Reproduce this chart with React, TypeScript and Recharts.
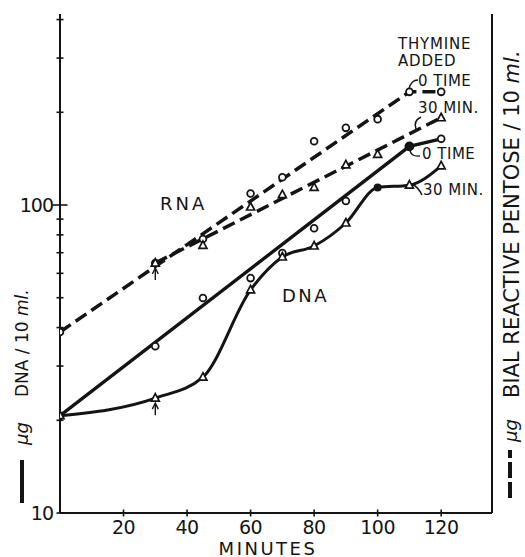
import React from "react";
import { ComposedChart, Line, Scatter, XAxis, YAxis } from "recharts";

// minutes after the split, values
const rnaZeroMinutes = [0, 30, 45, 60, 70, 80, 90, 100, 110, 120];
const rnaZeroValues = [38.7, 64.8, 77.6, 109, 123, 161, 178, 190, 233, 233];
const rnaThirtyMinutes = [30, 45, 60, 70, 80, 90, 100, 120];
const rnaThirtyValues = [64.8, 74, 98.5, 108, 114, 135, 146, 192];
const dnaZeroMinutes = [0, 30, 45, 60, 70, 80, 90, 110, 120];
const dnaZeroValues = [20.7, 34.8, 49.9, 57.9, 69.8, 84, 103, 155, 164];
const dnaThirtyMinutes = [0, 30, 45, 60, 70, 80, 90, 100, 110, 120];
const dnaThirtyValues = [20.7, 23.6, 27.6, 53, 67.8, 73.6, 87.4, 114, 116, 134];

// hand-drawn lines through the scattered points
const rnaZeroLineMinutes = [0, 110, 120];
const rnaZeroLineValues = [38.7, 233, 233];
const rnaThirtyLineMinutes = [30, 120];
const rnaThirtyLineValues = [64.8, 192];
const dnaZeroLineMinutes = [0, 110, 120];
const dnaZeroLineValues = [20.7, 155, 164];

// thymine added marks (arrows)
const arrowMinutes = [30, 30];
const arrowValues = [64.8, 23.6];

const xTicks = [20, 40, 60, 80, 100, 120];
const yTicks = [10, 20, 30, 40, 50, 60, 70, 80, 90, 100, 200, 300, 400];
const yLabels = [10, 100];

const filledDnaZero = [110];
const filledDnaThirty = [100];

const INK = "#141414";
const FONT = "'DejaVu Sans', sans-serif";

const toPoints = (xs: number[], ys: number[]) =>
  xs.map((x, i) => ({ x, y: ys[i] }));

const circleShape = (filled: number[]) => (props: any) => {
  const { cx, cy, payload } = props;
  if (cx == null || cy == null) return <g />;
  const solid = payload && filled.includes(payload.x);
  return (
    <circle
      cx={cx}
      cy={cy}
      r={solid ? 4 : 3.4}
      fill={solid ? INK : "#fff"}
      stroke={INK}
      strokeWidth={1.8}
    />
  );
};

const triangleShape = (filled: number[]) => (props: any) => {
  const { cx, cy, payload } = props;
  if (cx == null || cy == null) return <g />;
  if (payload && filled.includes(payload.x)) {
    return <circle cx={cx} cy={cy} r={4} fill={INK} />;
  }
  return (
    <polygon
      points={`${cx},${cy - 4.5} ${cx + 4},${cy + 3} ${cx - 4},${cy + 3}`}
      fill="#fff"
      stroke={INK}
      strokeWidth={1.7}
    />
  );
};

const arrowShape = (props: any) => {
  const { cx, cy } = props;
  if (cx == null || cy == null) return <g />;
  return (
    <g stroke={INK} strokeWidth={1.4} fill="none">
      <line x1={cx} x2={cx} y1={cy + 5} y2={cy + 17} />
      <path d={`M${cx - 3},${cy + 11} L${cx},${cy + 5} L${cx + 3},${cy + 11}`} />
    </g>
  );
};

const YTick = (props: any) => {
  const { x, y, payload } = props;
  const v = payload.value;
  const half = v === 100 ? 7.5 : 3.5;
  return (
    <g>
      <line x1={x - half} x2={x + half} y1={y} y2={y} stroke={INK} strokeWidth={1.6} />
      {yLabels.includes(v) && (
        <text
          x={x - 7}
          y={y}
          dy="0.36em"
          textAnchor="end"
          fontSize={19}
          fontFamily={FONT}
          fill={INK}
          letterSpacing={-1}
        >
          {v}
        </text>
      )}
    </g>
  );
};

const XTick = (props: any) => {
  const { x, y, payload } = props;
  return (
    <g>
      <line x1={x} x2={x} y1={y - 3.5} y2={y + 3.5} stroke={INK} strokeWidth={1.6} />
      <text
        x={x}
        y={y + 21}
        textAnchor="middle"
        fontSize={19}
        fontFamily={FONT}
        fill={INK}
        letterSpacing={-0.5}
      >
        {payload.value}
      </text>
    </g>
  );
};

const Annotations = () => (
  <svg
    width={525}
    height={557}
    style={{ position: "absolute", left: 0, top: 0, pointerEvents: "none" }}
    fontFamily={FONT}
    fill={INK}
  >
    <text x={160} y={209.5} fontSize={18} letterSpacing={3}>RNA</text>
    <text x={282} y={301.5} fontSize={18} letterSpacing={2.5}>DNA</text>

    <text x={398} y={48.5} fontSize={15} letterSpacing={0.8}>THYMINE</text>
    <text x={398} y={65.5} fontSize={15} letterSpacing={0.8}>ADDED</text>
    <text x={418} y={86} fontSize={15} letterSpacing={0.5}>0 TIME</text>
    <text x={418} y={112.5} fontSize={15} letterSpacing={0.5}>30 MIN.</text>
    <text x={422} y={158.5} fontSize={15} letterSpacing={0.5}>0 TIME</text>
    <text x={423} y={194.5} fontSize={15} letterSpacing={0.5}>30 MIN.</text>

    <g stroke={INK} strokeWidth={1.4} fill="none">
      <path d="M409,89 Q411,80 418,80" />
      <path d="M416,129 Q413,121 421,117" />
      <path d="M410,149 Q410,157 420,156" />
      <path d="M412,184 Q418,187 422,195" />
    </g>

    {/* left axis title */}
    <line x1={22} x2={22} y1={460} y2={503} stroke={INK} strokeWidth={4} />
    <text x={28} y={445} fontSize={18} fontStyle="italic" transform="rotate(-90 28 445)">µg</text>
    <text x={28} y={397} fontSize={17} transform="rotate(-90 28 397)">
      DNA / 10 <tspan fontStyle="italic">ml.</tspan>
    </text>

    {/* right axis title */}
    <line x1={510} x2={510} y1={498} y2={450} stroke={INK} strokeWidth={4} strokeDasharray="16 4" />
    <text x={517} y={442} fontSize={18} fontStyle="italic" transform="rotate(-90 517 442)">µg</text>
    <text x={518.5} y={398} fontSize={21} transform="rotate(-90 518.5 398)">
      BIAL REACTIVE PENTOSE / 10 <tspan fontStyle="italic">ml.</tspan>
    </text>

    <text x={268} y={554.5} fontSize={18} letterSpacing={2.5} textAnchor="middle">MINUTES</text>
  </svg>
);

export default function App() {
  return (
    <div
      style={{
        position: "absolute",
        left: 0,
        top: 0,
        width: 525,
        height: 557,
        background: "#fff",
      }}
    >
      <ComposedChart
        width={525}
        height={557}
        margin={{ top: 14, right: 32, bottom: 43, left: 59 }}
      >
        <XAxis
          type="number"
          dataKey="x"
          domain={[0, 136]}
          ticks={xTicks}
          allowDataOverflow
          height={1}
          tickSize={0}
          tickMargin={0}
          tick={<XTick />}
          axisLine={{ stroke: INK, strokeWidth: 2 }}
        />
        <YAxis
          type="number"
          dataKey="y"
          scale="log"
          domain={[10, 417]}
          ticks={yTicks}
          allowDataOverflow
          width={1}
          tickSize={0}
          tickMargin={0}
          tick={<YTick />}
          interval={0}
          axisLine={{ stroke: INK, strokeWidth: 2 }}
        />
        <YAxis
          yAxisId="right"
          orientation="right"
          type="number"
          domain={[0, 1]}
          width={1}
          tick={false}
          tickLine={false}
          axisLine={{ stroke: INK, strokeWidth: 2 }}
        />

        <Line
          data={toPoints(rnaZeroLineMinutes, rnaZeroLineValues)}
          dataKey="y"
          type="linear"
          stroke={INK}
          strokeWidth={3.5}
          strokeDasharray="13 6"
          dot={false}
          isAnimationActive={false}
        />
        <Line
          data={toPoints(rnaThirtyLineMinutes, rnaThirtyLineValues)}
          dataKey="y"
          type="linear"
          stroke={INK}
          strokeWidth={3.5}
          strokeDasharray="13 6"
          dot={false}
          isAnimationActive={false}
        />
        <Line
          data={toPoints(dnaZeroLineMinutes, dnaZeroLineValues)}
          dataKey="y"
          type="linear"
          stroke={INK}
          strokeWidth={3.4}
          dot={false}
          isAnimationActive={false}
        />
        <Line
          data={toPoints(dnaThirtyMinutes, dnaThirtyValues)}
          dataKey="y"
          type="monotone"
          stroke={INK}
          strokeWidth={3}
          dot={false}
          isAnimationActive={false}
        />

        <Scatter
          data={toPoints(rnaZeroMinutes, rnaZeroValues)}
          dataKey="y"
          shape={circleShape([])}
          isAnimationActive={false}
        />
        <Scatter
          data={toPoints(rnaThirtyMinutes, rnaThirtyValues)}
          dataKey="y"
          shape={triangleShape([])}
          isAnimationActive={false}
        />
        <Scatter
          data={toPoints(dnaZeroMinutes, dnaZeroValues)}
          dataKey="y"
          shape={circleShape(filledDnaZero)}
          isAnimationActive={false}
        />
        <Scatter
          data={toPoints(dnaThirtyMinutes, dnaThirtyValues)}
          dataKey="y"
          shape={triangleShape(filledDnaThirty)}
          isAnimationActive={false}
        />
        <Scatter
          data={toPoints(arrowMinutes, arrowValues)}
          dataKey="y"
          shape={arrowShape}
          isAnimationActive={false}
        />
      </ComposedChart>
      <Annotations />
    </div>
  );
}
